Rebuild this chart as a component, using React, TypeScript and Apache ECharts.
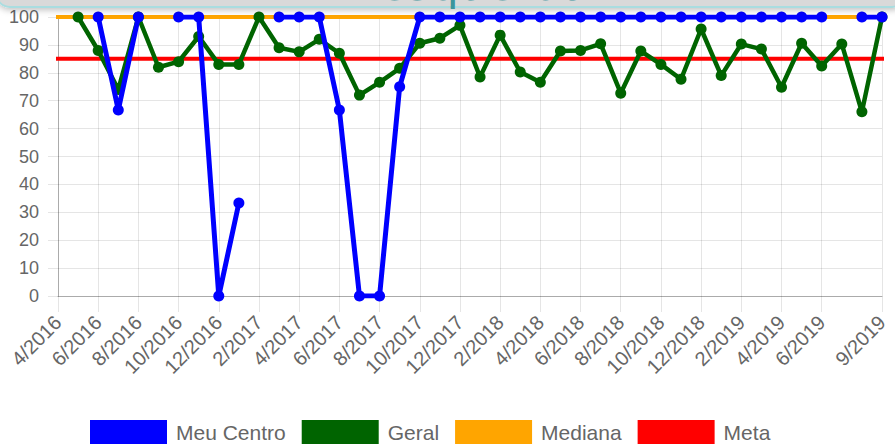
import React, { useEffect, useRef } from "react";
import * as echarts from "echarts";

const months: string[] = [
  "4/2016", "5/2016", "6/2016", "7/2016", "8/2016", "9/2016", "10/2016", "11/2016", "12/2016",
  "1/2017", "2/2017", "3/2017", "4/2017", "5/2017", "6/2017", "7/2017", "8/2017", "9/2017", "10/2017", "11/2017", "12/2017",
  "1/2018", "2/2018", "3/2018", "4/2018", "5/2018", "6/2018", "7/2018", "8/2018", "9/2018", "10/2018", "11/2018", "12/2018",
  "1/2019", "2/2019", "3/2019", "4/2019", "5/2019", "6/2019", "7/2019", "8/2019", "9/2019",
];

const meuCentro: (number | null)[] = [
  null, null, 100, 66.7, 100, null, 100, 100, 0,
  33.3, null, 100, 100, 100, 66.7, 0, 0, 75, 100, 100, 100,
  100, 100, 100, 100, 100, 100, 100, 100, 100, 100, 100, 100,
  100, 100, 100, 100, 100, 100, null, 100, 100,
];

const geral: (number | null)[] = [
  null, 100, 88, 74, 100, 82, 84, 93, 83,
  83, 100, 89, 87.5, 92, 87, 72, 76.6, 81.6, 90.6, 92.4, 97,
  78.5, 93.5, 80.3, 76.6, 87.8, 88, 90.4, 72.7, 87.8, 83, 77.7, 95.7,
  79, 90.3, 88.5, 74.8, 90.6, 82.4, 90.3, 66, 100,
];

const medianaValue = 100;
const metaValue = 85;
const mediana: number[] = months.map(() => medianaValue);
const meta: number[] = months.map(() => metaValue);

const yTicks = { min: 0, max: 100, interval: 10 };
const titleText = "esquerda";

const FONT = "'Liberation Sans', Arial, Helvetica, sans-serif";
const lastIdx = months.length - 1;
const showIdx = (i: number) => (i % 2 === 0 && i <= lastIdx - 3) || i === lastIdx;

export default function App() {
  const ref = useRef<HTMLDivElement>(null);
  useEffect(() => {
    if (!ref.current) return;
    const chart = echarts.init(ref.current, undefined, { renderer: "svg" });
    chart.setOption({
      animation: false,
      backgroundColor: "#ffffff",
      grid: { left: 58, right: 13, top: 17, bottom: 148, containLabel: false },
      legend: {
        left: 90,
        top: 420,
        padding: 0,
        icon: "rect",
        itemWidth: 77,
        itemHeight: 24,
        itemGap: 16,
        textStyle: { color: "#666", fontSize: 21, fontFamily: FONT, padding: [0, 0, 0, 4] },
        data: ["Meu Centro", "Geral", "Mediana", "Meta"],
      },
      xAxis: {
        type: "category",
        data: months,
        boundaryGap: false,
        axisLine: { show: true, lineStyle: { color: "rgba(0,0,0,0.25)", width: 1 } },
        axisTick: { show: true, length: 16, interval: (i: number) => showIdx(i), lineStyle: { color: "rgba(0,0,0,0.1)" } },
        splitLine: { show: true, interval: (i: number) => showIdx(i), lineStyle: { color: "rgba(0,0,0,0.1)", width: 1 } },
        axisLabel: {
          interval: (i: number) => showIdx(i),
          rotate: 45,
          margin: 23,
          color: "#666",
          fontSize: 20,
          fontFamily: FONT,
        },
      },
      yAxis: {
        type: "value",
        min: yTicks.min,
        max: yTicks.max,
        interval: yTicks.interval,
        axisLine: { show: true, lineStyle: { color: "rgba(0,0,0,0.25)", width: 1 } },
        axisTick: { show: true, length: 10, lineStyle: { color: "rgba(0,0,0,0.1)" } },
        splitLine: { show: true, lineStyle: { color: "rgba(0,0,0,0.1)", width: 1 } },
        axisLabel: { margin: 19, color: "#666", fontSize: 18, fontFamily: FONT },
      },
      series: [
        {
          name: "Meu Centro",
          type: "line",
          data: meuCentro,
          z: 5,
          connectNulls: false,
          symbol: "circle",
          symbolSize: 11,
          showSymbol: true,
          color: "#0000ff",
          itemStyle: { color: "#0000ff" },
          lineStyle: { color: "#0000ff", width: 5 },
        },
        {
          name: "Geral",
          type: "line",
          data: geral,
          z: 4,
          symbol: "circle",
          symbolSize: 11,
          color: "#006400",
          itemStyle: { color: "#006400" },
          lineStyle: { color: "#006400", width: 4.5 },
        },
        {
          name: "Mediana",
          type: "line",
          data: mediana,
          z: 3,
          showSymbol: false,
          color: "#ffa500",
          itemStyle: { color: "#ffa500" },
          lineStyle: { color: "#ffa500", width: 4, cap: "square" },
        },
        {
          name: "Meta",
          type: "line",
          data: meta,
          z: 2,
          showSymbol: false,
          color: "#ff0000",
          itemStyle: { color: "#ff0000" },
          lineStyle: { color: "#ff0000", width: 4, cap: "square" },
        },
      ],
      graphic: [
        {
          type: "rect",
          z: 100,
          shape: { x: -4, y: -30, width: 910, height: 37, r: 14 },
          style: {
            fill: "#d9d9d9",
            stroke: "#a9dde0",
            lineWidth: 2,
            shadowBlur: 6,
            shadowColor: "rgba(0,0,0,0.25)",
            shadowOffsetY: 2,
          },
        },
        {
          type: "text",
          z: 101,
          x: 484,
          y: -16,
          style: {
            text: titleText,
            fill: "#3b959c",
            fontSize: 45,
            fontFamily: "'DejaVu Sans', Verdana, sans-serif",
            align: "center",
            verticalAlign: "middle",
          },
        },
      ],
    });
    return () => chart.dispose();
  }, []);
  return (
    <div
      ref={ref}
      style={{ position: "fixed", left: 0, top: 0, width: 895, height: 444, background: "#fff" }}
    />
  );
}
